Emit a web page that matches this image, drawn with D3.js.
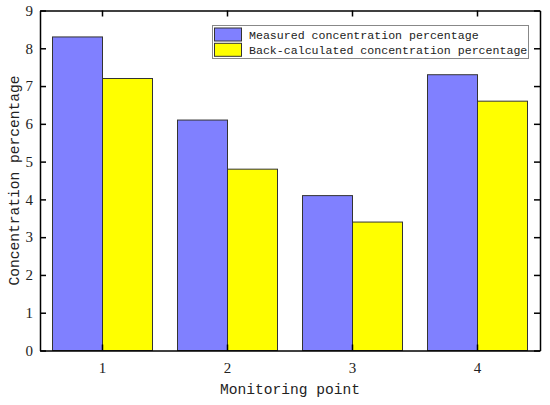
<!DOCTYPE html>
<html lang="en">
<head>
<meta charset="UTF-8">
<title>Concentration percentage by monitoring point</title>
<script src="https://d3js.org/d3.v7.min.js"></script>
<style>
    body { margin: 0; background: #fff; }
    .axis path, .axis line { stroke: #000; stroke-width: 1.5; }
    .title { font-family: "Liberation Mono", monospace; font-size: 14.6px; fill: #222; }
    .legend text { font-family: "Liberation Mono", monospace; font-size: 11.6px; fill: #222; }
</style>
</head>
<body>
<div id="chart"></div>
<script>
    // data
    const points = ["1", "2", "3", "4"];
    const seriesNames = ["Measured concentration percentage", "Back-calculated concentration percentage"];
    const measured = [8.3, 6.1, 4.1, 7.3];
    const backCalc = [7.2, 4.8, 3.4, 6.6];
    const yTicks = [0, 1, 2, 3, 4, 5, 6, 7, 8, 9];
    const colors = ["#8080ff", "#ffff00"];

    const width = 550, height = 405;
    const margin = {left: 40, right: 10, top: 10.5, bottom: 54.5};

    const svg = d3.select("#chart").append("svg")
        .attr("width", width)
        .attr("height", height);

    const x = d3.scaleBand()
        .domain(points)
        .range([margin.left, width - margin.right])
        .paddingInner(0.2)
        .paddingOuter(0.1);

    const xSub = d3.scaleBand()
        .domain([0, 1])
        .range([0, x.bandwidth()]);

    const y = d3.scaleLinear()
        .domain([0, 9])
        .range([height - margin.bottom, margin.top]);

    const rows = points.map((p, i) => ({point: p, values: [measured[i], backCalc[i]]}));

    // bars
    svg.append("g").selectAll("g")
        .data(rows)
        .enter().append("g")
        .attr("transform", d => "translate(" + x(d.point) + ",0)")
        .selectAll("rect")
        .data(d => d.values.map((v, k) => ({k: k, v: v})))
        .enter().append("rect")
        .attr("x", d => xSub(d.k))
        .attr("width", xSub.bandwidth())
        .attr("y", d => y(d.v))
        .attr("height", d => y(0) - y(d.v))
        .attr("fill", d => colors[d.k])
        .attr("stroke", "#333")
        .attr("stroke-width", 1);

    // axes, ticks pointing inward
    const xBottom = svg.append("g")
        .attr("class", "axis")
        .attr("transform", "translate(0," + y(0) + ")")
        .call(d3.axisBottom(x).tickSize(-6).tickSizeOuter(0).tickPadding(10));
    xBottom.selectAll("text").attr("dy", "0.8em");

    svg.append("g")
        .attr("class", "axis")
        .attr("transform", "translate(0," + y(9) + ")")
        .call(d3.axisTop(x).tickSize(-6).tickSizeOuter(0).tickFormat(""));

    svg.append("g")
        .attr("class", "axis")
        .attr("transform", "translate(" + margin.left + ",0)")
        .call(d3.axisLeft(y).tickValues(yTicks).tickSize(-6).tickSizeOuter(0).tickPadding(7));

    svg.append("g")
        .attr("class", "axis")
        .attr("transform", "translate(" + (width - margin.right) + ",0)")
        .call(d3.axisRight(y).tickValues(yTicks).tickSize(-6).tickSizeOuter(0).tickFormat(""));

    svg.selectAll(".axis")
        .attr("font-family", "Liberation Serif, serif")
        .attr("font-size", 15);
    svg.selectAll(".axis text").attr("fill", "#222");

    // axis titles
    svg.append("text")
        .attr("class", "title")
        .attr("x", (margin.left + width - margin.right) / 2)
        .attr("y", 394)
        .attr("text-anchor", "middle")
        .text("Monitoring point");

    svg.append("text")
        .attr("class", "title")
        .attr("transform", "translate(19," + y(4.5) + ") rotate(-90)")
        .attr("text-anchor", "middle")
        .text("Concentration percentage");

    // legend
    const legend = svg.append("g").attr("class", "legend");
    legend.append("rect")
        .attr("x", 212.5).attr("y", 25.5)
        .attr("width", 316).attr("height", 33)
        .attr("fill", "#fff")
        .attr("stroke", "#888")
        .attr("stroke-width", 1);

    const item = legend.selectAll("g.item")
        .data(seriesNames)
        .enter().append("g")
        .attr("class", "item")
        .attr("transform", (d, i) => "translate(214.5," + (28 + i * 15.3) + ")");
    item.append("rect")
        .attr("width", 27).attr("height", 13)
        .attr("fill", (d, i) => colors[i])
        .attr("stroke", "#333")
        .attr("stroke-width", 1);
    item.append("text")
        .attr("x", 34.5)
        .attr("y", 11)
        .text(d => d);
</script>
</body>
</html>
